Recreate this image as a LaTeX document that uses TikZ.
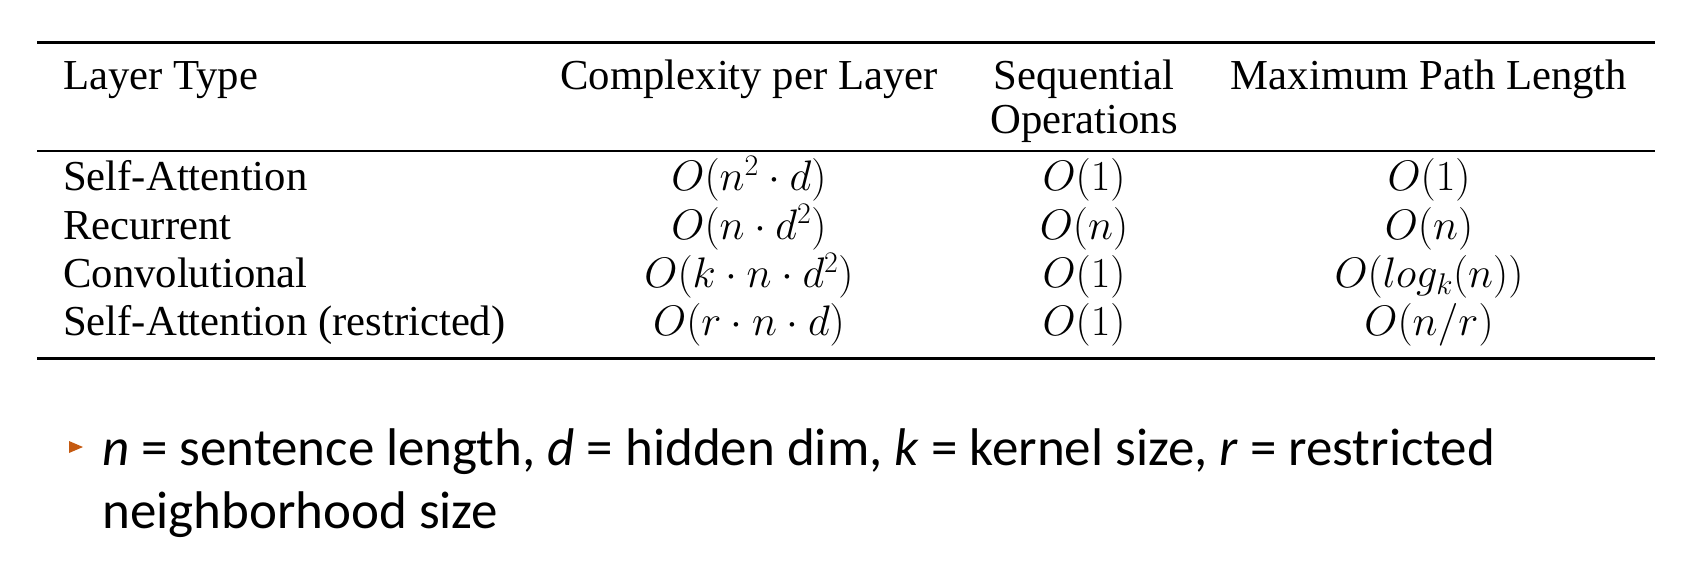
\RequirePackage{fix-cm}
\documentclass[tikz,border=0pt]{standalone}
\usepackage[no-math]{fontspec}
\usepackage{amsmath,amssymb}
\setmainfont{Liberation Serif}
\newfontfamily\slidefont{Carlito}
\definecolor{bulletorange}{RGB}{197,90,17}
\tikzset{
  cell/.style={inner sep=0pt,font=\fontsize{42.7}{51}\selectfont},
  slide/.style={inner sep=0pt,font=\fontsize{53}{63}\slidefont},
}

\begin{document}
\begin{tikzpicture}[x=1pt,y=-1pt]
    \useasboundingbox (0,0) rectangle (1698,564);
    \draw[line width=3pt] (37,43) -- (1655,43);
    \draw[line width=1.8pt] (37,151) -- (1655,151);
    \draw[line width=3pt] (37,358) -- (1655,358);
    \node[cell,anchor=base west] (hdtype) at (63,90) {Layer Type};
    \node[cell,anchor=base] (hdcplx) at (749,90) {Complexity per Layer};
    \node[cell,anchor=base] (hdseq) at (1084,90) {Sequential};
    \node[cell,anchor=base] (hdops) at (1084,134) {Operations};
    \node[cell,anchor=base] (hdpath) at (1429,90) {Maximum Path Length};
    \foreach \lab/\cplx/\sq/\plen [count=\i from 0] in {
        {Self-Attention}/{$O(n^2\cdot d)$}/{$O(1)$}/{$O(1)$},
        {Recurrent}/{$O(n\cdot d^2)$}/{$O(n)$}/{$O(n)$},
        {Convolutional}/{$O(k\cdot n\cdot d^2)$}/{$O(1)$}/{$O(log_k(n))$},
        {Self-Attention (restricted)}/{$O(r\cdot n\cdot d)$}/{$O(1)$}/{$O(n/r)$}}{
      \pgfmathsetmacro\yy{191+48.3*\i}
      \node[cell,anchor=base west] (type\i) at (63,\yy) {\lab};
      \node[cell,anchor=base] (cplx\i) at (749,\yy) {\cplx};
      \node[cell,anchor=base] (seq\i) at (1084,\yy) {\sq};
      \node[cell,anchor=base] (path\i) at (1429,\yy) {\plen};
    }
    \fill[bulletorange] (69,441) -- (83,447) -- (69,453) -- cycle;
    \node[slide,anchor=base west] (keyline) at (102,465)
      {\textit{n} = sentence length, \textit{d} = hidden dim, \textit{k} = kernel size, \textit{r} = restricted};
    \node[slide,anchor=base west] (keyrest) at (102,528) {neighborhood size};
  \end{tikzpicture}
\end{document}
